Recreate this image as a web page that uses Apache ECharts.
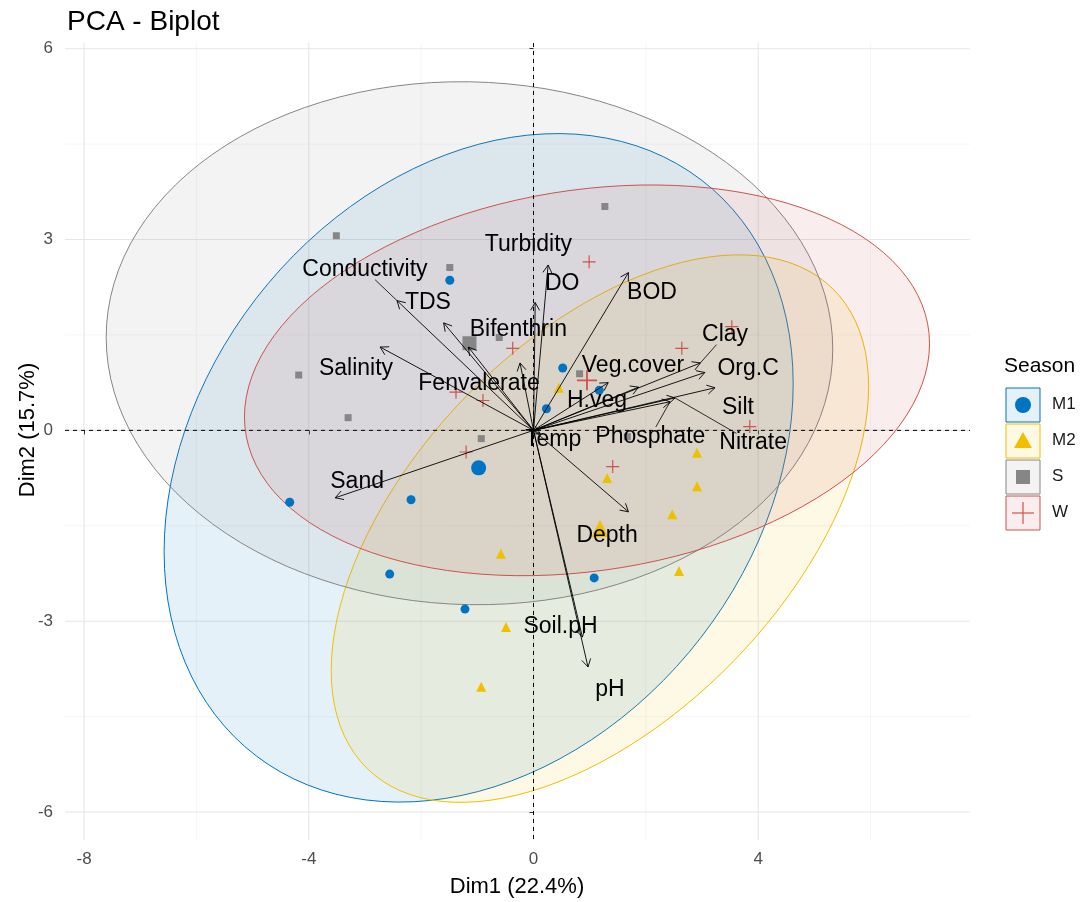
<!DOCTYPE html>
<html>
<head>
<meta charset="utf-8">
<script src="https://cdn.jsdelivr.net/npm/echarts@6/dist/echarts.min.js"></script>
<style>
  html, body { margin: 0; padding: 0; background: #ffffff; }
  #chart { width: 1087px; height: 902px; }
</style>
</head>
<body>
<div id="chart"></div>
<script>
// ---------------- data ----------------
const seasons = ['M1', 'M2', 'S', 'W'];
const seasonColors = ['#0073C2', '#EFC000', '#868686', '#CD534C'];

// individuals (PCA scores) per season
const m1Dim1 = [-1.49, 0.52, 1.17, 0.23, -4.34, -2.18, -2.56, -1.22, 1.08];
const m1Dim2 = [2.36, 0.98, 0.63, 0.34, -1.13, -1.09, -2.26, -2.81, -2.32];
const m2Dim1 = [0.45, 1.31, 2.91, 2.91, 2.47, -0.58, 2.59, -0.49, -0.93];
const m2Dim2 = [0.67, -0.75, -0.35, -0.88, -1.32, -1.94, -2.21, -3.09, -4.03];
const sDim1 = [1.27, -3.51, -1.49, -4.18, -3.30, -0.93, 0.82, 1.67, -0.61];
const sDim2 = [3.52, 3.06, 2.56, 0.87, 0.20, -0.13, 0.89, -0.10, 1.46];
const wDim1 = [0.99, -0.37, 2.64, 3.53, -1.38, -0.90, -1.20, 1.41, 3.85];
const wDim2 = [2.65, 1.29, 1.29, 1.63, 0.60, 0.47, -0.34, -0.57, 0.06];

// variables (loadings scaled to the score space)
const varNames = ['Conductivity', 'TDS', 'Salinity', 'Bifenthrin', 'Fenvalerate',
  'Turbidity', 'DO', 'BOD', 'Clay', 'Org.C', 'Silt', 'Veg.cover', 'H.veg',
  'Phosphate', 'Nitrate', 'Temp', 'Sand', 'Depth', 'Soil.pH', 'pH'];
const varDim1 = [-2.43, -1.60, -2.73, -0.24, -1.16, 0.26, 0.03, 1.69, 2.97, 3.05,
  3.23, 1.87, 1.33, 2.43, 2.52, 0.12, -3.53, 1.69, 0.87, 0.97];
const varDim2 = [2.04, 1.69, 1.31, 1.06, 1.31, 2.60, 2.01, 2.48, 1.06, 0.91,
  0.67, 0.68, 0.75, 0.45, 0.51, -0.05, -1.06, -1.28, -3.25, -3.72];

// repelled label anchors (score units) and whether a leader segment is drawn
const labelDim1 = [-3.00, -1.88, -3.16, -0.27, -0.97, -0.09, 0.51, 2.11, 3.41, 3.82,
  3.64, 1.77, 1.13, 2.08, 3.91, 0.35, -3.14, 1.31, 0.48, 1.36];
const labelDim2 = [2.52, 2.01, 0.97, 1.58, 0.73, 2.92, 2.30, 2.16, 1.50, 0.97,
  0.35, 1.01, 0.46, -0.10, -0.20, -0.15, -0.81, -1.66, -3.09, -4.08];
const labelSegment = [1, 0, 0, 0, 0, 0, 0, 0, 1, 0, 0, 0, 0, 1, 1, 0, 0, 0, 0, 0];

// axis ticks
const xMajorTicks = [-8, -4, 0, 4];
const xMinorTicks = [-6, -2, 2, 6];
const yMajorTicks = [-6, -3, 0, 3, 6];
const yMinorTicks = [-4.5, -1.5, 1.5, 4.5];

// ---------------- helpers ----------------
const FONT = '"Liberation Sans", Arial, Helvetica, sans-serif';
const groupX = [m1Dim1, m2Dim1, sDim1, wDim1];
const groupY = [m1Dim2, m2Dim2, sDim2, wDim2];
const symbols = ['circle', 'triangle', 'rect', 'path://M0,9.1H20V10.9H0Z M9.1,0H10.9V20H9.1Z'];
const pointSizes = [9, 10, 7, 13];
const centroidSizes = [15, 17, 14, 20];

function mean(a) { return a.reduce((s, v) => s + v, 0) / a.length; }
function rgba(hex, a) {
  const n = parseInt(hex.slice(1), 16);
  return 'rgba(' + (n >> 16 & 255) + ',' + (n >> 8 & 255) + ',' + (n & 255) + ',' + a + ')';
}

// normal-theory 95% data ellipse (same construction as stat_ellipse type = "norm")
function dataEllipse(xs, ys, level) {
  const n = xs.length, mx = mean(xs), my = mean(ys);
  let sxx = 0, syy = 0, sxy = 0;
  for (let i = 0; i < n; i++) {
    const dx = xs[i] - mx, dy = ys[i] - my;
    sxx += dx * dx; syy += dy * dy; sxy += dx * dy;
  }
  sxx /= (n - 1); syy /= (n - 1); sxy /= (n - 1);
  const dfd = n - 1;
  const qf = (dfd / 2) * (Math.pow(1 - level, -2 / dfd) - 1); // F(2, dfd) quantile
  const r = Math.sqrt(2 * qf);
  const r11 = Math.sqrt(sxx), r12 = sxy / r11, r22 = Math.sqrt(syy - r12 * r12);
  const pts = [];
  for (let k = 0; k <= 120; k++) {
    const t = 2 * Math.PI * k / 120, c = Math.cos(t), s = Math.sin(t);
    pts.push([mx + r * c * r11, my + r * (c * r12 + s * r22)]);
  }
  return pts;
}

const measureCtx = document.createElement('canvas').getContext('2d');
function textWidth(t, size) {
  measureCtx.font = size + 'px ' + FONT;
  return measureCtx.measureText(t).width;
}

// ---------------- series ----------------
const series = [];

// panel grid lines
const gridData = []
  .concat(xMinorTicks.map(v => [0, v, 0]))
  .concat(yMinorTicks.map(v => [1, v, 0]))
  .concat(xMajorTicks.map(v => [0, v, 1]))
  .concat(yMajorTicks.map(v => [1, v, 1]));
series.push({
  type: 'custom', z: 0, silent: true, clip: true,
  data: gridData,
  renderItem(params, api) {
    const dir = api.value(0), v = api.value(1), major = api.value(2);
    const cs = params.coordSys;
    let shape;
    if (dir === 0) {
      const p = api.coord([v, 0])[0];
      shape = { x1: p, y1: cs.y, x2: p, y2: cs.y + cs.height };
    } else {
      const p = api.coord([0, v])[1];
      shape = { x1: cs.x, y1: p, x2: cs.x + cs.width, y2: p };
    }
    return { type: 'line', shape, style: { stroke: major ? '#E6E6E6' : '#F0F0F0', lineWidth: major ? 1.1 : 0.7 } };
  }
});

// concentration ellipses
seasons.forEach((s, g) => {
  const poly = dataEllipse(groupX[g], groupY[g], 0.95);
  series.push({
    type: 'custom', z: 1, silent: true, clip: true,
    data: [[0, 0]],
    renderItem(params, api) {
      return {
        type: 'polygon',
        shape: { points: poly.map(p => api.coord(p)) },
        style: { fill: rgba(seasonColors[g], 0.1), stroke: seasonColors[g], lineWidth: 1 }
      };
    }
  });
});

// reference lines through the origin
series.push({
  type: 'custom', z: 2, silent: true, clip: true,
  data: [[0, 0], [1, 0]],
  renderItem(params, api) {
    const cs = params.coordSys;
    const o = api.coord([0, 0]);
    const shape = api.value(0) === 0
      ? { x1: o[0], y1: cs.y, x2: o[0], y2: cs.y + cs.height }
      : { x1: cs.x, y1: o[1], x2: cs.x + cs.width, y2: o[1] };
    return { type: 'line', shape, style: { stroke: '#000', lineWidth: 1, lineDash: [4, 4] } };
  }
});

// individuals
seasons.forEach((s, g) => {
  series.push({
    type: 'scatter', name: s, z: 3, silent: true,
    symbol: symbols[g], symbolSize: pointSizes[g],
    itemStyle: { color: seasonColors[g], opacity: 1 },
    data: groupX[g].map((x, i) => [x, groupY[g][i]])
  });
});

// group mean points
seasons.forEach((s, g) => {
  series.push({
    type: 'scatter', z: 3, silent: true,
    symbol: symbols[g], symbolSize: centroidSizes[g],
    itemStyle: { color: seasonColors[g], opacity: 1 },
    data: [[mean(groupX[g]), mean(groupY[g])]]
  });
});

// variable arrows
series.push({
  type: 'custom', z: 4, silent: true, clip: false,
  data: varNames.map((n, i) => [varDim1[i], varDim2[i]]),
  renderItem(params, api) {
    const o = api.coord([0, 0]);
    const e = api.coord([api.value(0), api.value(1)]);
    const ang = Math.atan2(e[1] - o[1], e[0] - o[0]);
    const L = 9, A = Math.PI / 6;
    const h1 = [e[0] - L * Math.cos(ang - A), e[1] - L * Math.sin(ang - A)];
    const h2 = [e[0] - L * Math.cos(ang + A), e[1] - L * Math.sin(ang + A)];
    return {
      type: 'group',
      children: [
        { type: 'line', shape: { x1: o[0], y1: o[1], x2: e[0], y2: e[1] }, style: { stroke: '#000', lineWidth: 0.9 } },
        { type: 'polyline', shape: { points: [h1, e, h2] }, style: { stroke: '#000', lineWidth: 0.9, fill: null } }
      ]
    };
  }
});

// variable labels (with leader segments where the label sits away from the tip)
const LABEL_SIZE = 23;
series.push({
  type: 'custom', z: 5, silent: true, clip: false,
  data: varNames.map((n, i) => [labelDim1[i], labelDim2[i], varDim1[i], varDim2[i], i]),
  renderItem(params, api) {
    const i = api.value(4);
    const c = api.coord([api.value(0), api.value(1)]);
    const t = api.coord([api.value(2), api.value(3)]);
    const children = [];
    if (labelSegment[i]) {
      const hw = textWidth(varNames[i], LABEL_SIZE) / 2 + 1, hh = LABEL_SIZE * 0.42;
      const dx = t[0] - c[0], dy = t[1] - c[1];
      const s = Math.min(Math.abs(dx) > 1e-6 ? hw / Math.abs(dx) : Infinity,
                         Math.abs(dy) > 1e-6 ? hh / Math.abs(dy) : Infinity);
      const start = [c[0] + dx * s, c[1] + dy * s];
      children.push({ type: 'line', shape: { x1: start[0], y1: start[1], x2: t[0], y2: t[1] }, style: { stroke: '#000', lineWidth: 0.8 } });
    }
    children.push({
      type: 'text',
      style: { text: varNames[i], x: c[0], y: c[1], align: 'center', verticalAlign: 'middle',
               fontSize: LABEL_SIZE, fontFamily: FONT, fill: '#000' }
    });
    return { type: 'group', children };
  }
});

// ---------------- legend ----------------
const legend = [{
  type: 'text', left: 1004, top: 356,
  style: { text: 'Season', fontSize: 21, fontFamily: FONT, fill: '#000' }
}];
seasons.forEach((s, g) => {
  const top = 388 + g * 36, cx = 1023, cy = top + 17, col = seasonColors[g];
  legend.push({ type: 'rect', shape: { x: 1006, y: top, width: 34, height: 34 },
    style: { fill: rgba(col, 0.1), stroke: col, lineWidth: 1 } });
  let sym;
  if (g === 0) sym = { type: 'circle', shape: { cx, cy, r: 8 }, style: { fill: col } };
  else if (g === 1) sym = { type: 'polygon', shape: { points: [[cx, cy - 9], [cx + 9, cy + 7], [cx - 9, cy + 7]] }, style: { fill: col } };
  else if (g === 2) sym = { type: 'rect', shape: { x: cx - 7, y: cy - 7, width: 14, height: 14 }, style: { fill: col } };
  else sym = { type: 'group', children: [
    { type: 'line', shape: { x1: cx - 11, y1: cy, x2: cx + 11, y2: cy }, style: { stroke: col, lineWidth: 1.2 } },
    { type: 'line', shape: { x1: cx, y1: cy - 11, x2: cx, y2: cy + 11 }, style: { stroke: col, lineWidth: 1.2 } }
  ] };
  legend.push(sym);
  legend.push({ type: 'text', left: 1052, top: cy - 9,
    style: { text: s, fontSize: 17, fontFamily: FONT, fill: '#1a1a1a' } });
});

// axis titles
legend.push({ type: 'text', x: 517, y: 887,
  style: { text: 'Dim1 (22.4%)', fontSize: 22, fontFamily: FONT, fill: '#000', align: 'center', verticalAlign: 'middle' } });
legend.push({ type: 'text', x: 28, y: 430, rotation: Math.PI / 2,
  style: { text: 'Dim2 (15.7%)', fontSize: 22, fontFamily: FONT, fill: '#000', align: 'center', verticalAlign: 'middle' } });

// ---------------- chart ----------------
const chart = echarts.init(document.getElementById('chart'));
chart.setOption({
  animation: false,
  backgroundColor: '#ffffff',
  title: {
    text: 'PCA - Biplot', left: 62, top: 3,
    textStyle: { fontSize: 28, fontWeight: 'normal', fontFamily: FONT, color: '#000' }
  },
  grid: { left: 65, right: 117, top: 43, bottom: 62, containLabel: false },
  xAxis: {
    type: 'value', min: -8.34, max: 7.77, offset: 2,
    axisLine: { show: false }, splitLine: { show: false },
    axisTick: { show: true, length: 4, customValues: xMajorTicks, lineStyle: { color: '#333', width: 1 } },
    axisLabel: { customValues: xMajorTicks, margin: 9, fontSize: 17, fontFamily: FONT, color: '#4D4D4D' }
  },
  yAxis: {
    type: 'value', min: -6.44, max: 6.09, offset: 3,
    axisLine: { show: false }, splitLine: { show: false },
    axisTick: { show: true, length: 4, customValues: yMajorTicks, lineStyle: { color: '#333', width: 1 } },
    axisLabel: { customValues: yMajorTicks, margin: 9, fontSize: 17, fontFamily: FONT, color: '#4D4D4D' }
  },
  graphic: legend,
  series
});
</script>
</body>
</html>
